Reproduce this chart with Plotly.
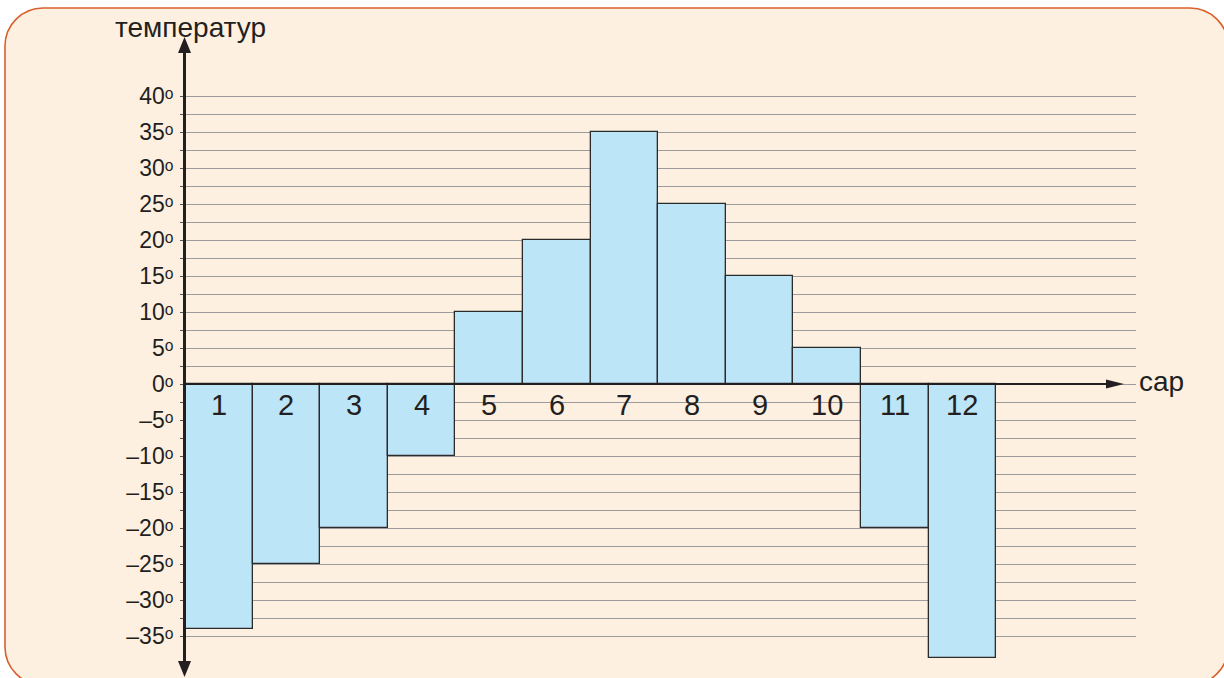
import plotly.graph_objects as go

# Monthly temperatures (month number -> degrees)
months = list(range(1, 13))
month_labels = [str(m) for m in months]
temps = [-34, -25, -20, -10, 10, 20, 35, 25, 15, 5, -20, -38]

# Labelled ticks every 5 degrees, extra grid lines halfway between them
label_vals = list(range(-35, 41, 5))
half_vals = [v + 2.5 for v in label_vals[:-1]]
y_title = "температур"
x_title = "сар"


def deg_label(v):
    s = str(abs(v))
    if v < 0:
        s = "\u2013" + s
    return s + "\u1d52"


tick_text = [deg_label(v) for v in label_vals]

# Canvas geometry (pixels)
W, H = 1224, 678
L, R, T, B = 185, 88, 38, 3
plot_w = W - L - R
plot_h = H - T - B
bar_px = 67.6          # one month slot in pixels
deg_px = 7.2           # one degree in pixels
zero_py = 384          # pixel row of 0 degrees

x_range = [0.5, 0.5 + plot_w / bar_px]
y_range = [-(H - B - zero_py) / deg_px, (zero_py - T) / deg_px]


def px(xp):
    return (xp - L) / plot_w


def py(yp):
    return (H - B - yp) / plot_h


ink = "#231F20"
grid = "#9C9C9C"
fig = go.Figure()

fig.add_trace(go.Bar(
    x=months, y=temps, width=1,
    marker=dict(color="#BDE5F8", line=dict(color="#2b2b2b", width=1.3)),
    hoverinfo="skip",
))

shapes = []

# Rounded background panel
x0, y0, x1, y1, r = 5, 8, 1228, 685, 38
k = 0.5523 * r
pts = [
    f"M{px(x0 + r)},{py(y0)}",
    f"L{px(x1 - r)},{py(y0)}",
    f"C{px(x1 - r + k)},{py(y0)} {px(x1)},{py(y0 + r - k)} {px(x1)},{py(y0 + r)}",
    f"L{px(x1)},{py(y1 - r)}",
    f"C{px(x1)},{py(y1 - r + k)} {px(x1 - r + k)},{py(y1)} {px(x1 - r)},{py(y1)}",
    f"L{px(x0 + r)},{py(y1)}",
    f"C{px(x0 + r - k)},{py(y1)} {px(x0)},{py(y1 - r + k)} {px(x0)},{py(y1 - r)}",
    f"L{px(x0)},{py(y0 + r)}",
    f"C{px(x0)},{py(y0 + r - k)} {px(x0 + r - k)},{py(y0)} {px(x0 + r)},{py(y0)}",
    "Z",
]
shapes.append(dict(type="path", path=" ".join(pts), xref="paper", yref="paper",
                   fillcolor="#FDF0E1", line=dict(color="#D9602C", width=1.6),
                   layer="below"))

# Vertical axis with arrowheads at both ends
ax_x = 184.5
shapes.append(dict(type="line", xref="paper", yref="paper",
                   x0=px(ax_x), x1=px(ax_x), y0=py(50), y1=py(663),
                   line=dict(color=ink, width=3)))
shapes.append(dict(type="path", xref="paper", yref="paper",
                   path=f"M{px(ax_x)},{py(37)} L{px(ax_x - 6.5)},{py(53)} L{px(ax_x + 6.5)},{py(53)} Z",
                   fillcolor=ink, line=dict(width=0)))
shapes.append(dict(type="path", xref="paper", yref="paper",
                   path=f"M{px(ax_x)},{py(677)} L{px(ax_x - 6.5)},{py(661)} L{px(ax_x + 6.5)},{py(661)} Z",
                   fillcolor=ink, line=dict(width=0)))

# Horizontal axis with arrowhead
hh = 4.5 / deg_px
shapes.append(dict(type="line", xref="paper", yref="y",
                   x0=px(ax_x), x1=px(1110), y0=0, y1=0,
                   line=dict(color=ink, width=2)))
shapes.append(dict(type="path", xref="paper", yref="y",
                   path=f"M{px(1124)},0 L{px(1106)},{hh} L{px(1106)},{-hh} Z",
                   fillcolor=ink, line=dict(width=0)))

annotations = []
for m, lab in zip(months, month_labels):
    annotations.append(dict(x=m, y=0, xref="x", yref="y", text=lab,
                            showarrow=False, yanchor="top", yshift=-3,
                            font=dict(size=29, color=ink)))
annotations.append(dict(x=px(113), y=py(28), xref="paper", yref="paper",
                        text=y_title, showarrow=False, xanchor="left",
                        yanchor="middle", font=dict(size=28, color=ink)))
annotations.append(dict(x=px(1137), y=0, xref="paper", yref="y",
                        text=x_title, showarrow=False, xanchor="left",
                        yanchor="middle", yshift=3,
                        font=dict(size=28, color=ink)))

fig.update_layout(
    width=W, height=H,
    margin=dict(l=L, r=R, t=T, b=B),
    paper_bgcolor="white",
    plot_bgcolor="rgba(0,0,0,0)",
    showlegend=False,
    bargap=0,
    font=dict(family="Liberation Sans, Arial, sans-serif", color=ink),
    xaxis=dict(range=x_range, showgrid=False, zeroline=False, showline=False,
               showticklabels=False, ticks="", fixedrange=True),
    yaxis=dict(range=y_range, tickmode="array", tickvals=label_vals,
               ticktext=tick_text, ticks="outside", ticklen=4, tickwidth=1,
               tickcolor="#555555", showgrid=True, gridcolor=grid,
               gridwidth=1, zeroline=False, showline=False,
               tickfont=dict(size=23, color=ink), ticklabelstandoff=2,
               minor=dict(tickmode="array", tickvals=half_vals,
                          ticks="outside", ticklen=4, tickwidth=1,
                          tickcolor="#555555", showgrid=True,
                          gridcolor=grid, gridwidth=1),
               fixedrange=True),
    shapes=shapes,
    annotations=annotations,
)

fig.write_html("out.html")
